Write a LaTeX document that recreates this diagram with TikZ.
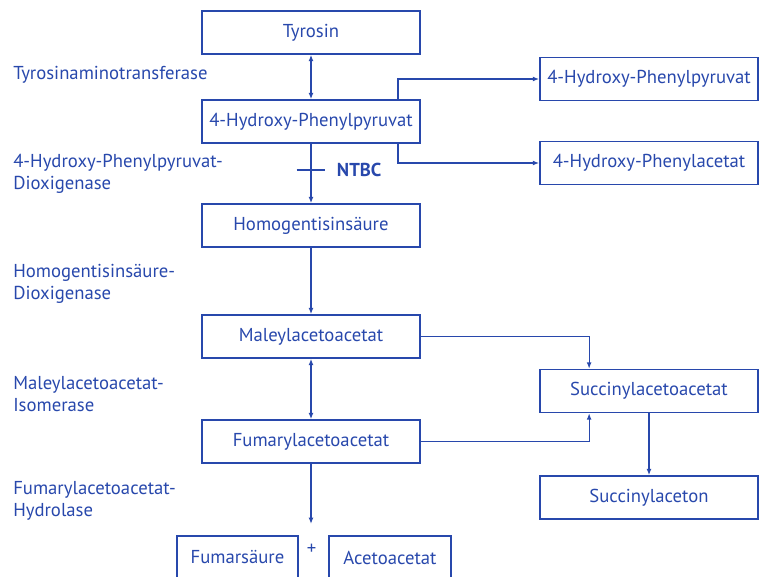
\documentclass[tikz,border=0pt]{standalone}
\usepackage{fontspec}
\setmainfont{PT Sans}
\usetikzlibrary{arrows.meta,positioning}
\definecolor{ink}{RGB}{40,72,172}

\tikzset{
  metab/.style={draw=ink, line width=1.2pt, text=ink, minimum width=5.45cm, minimum height=1.07cm, inner xsep=1pt},
  enzyme/.style={text=ink, anchor=west, align=left, inner sep=0pt},
  arr/.style={draw=ink, line width=0.9pt, -{Latex[length=4.5pt,width=3.5pt]}},
  darr/.style={arr, {Latex[length=4.5pt,width=3.5pt]}-{Latex[length=4.5pt,width=3.5pt]}}
}

\begin{document}
\begin{tikzpicture}[x=0.025cm, y=-0.025cm, font=\fontsize{13.3}{15.6}\selectfont]
    \clip (0,0) rectangle (759,577);
    % main pathway
    \node[metab] (tyr) at (311,32.5) {Tyrosin};
    \node[metab] (hpp) at (311,121.5) {4-Hydroxy-Phenylpyruvat};
    \node[metab] (hga) at (311,225.5) {Homogentisins\"aure};
    \node[metab] (maa) at (311,336.5) {Maleylacetoacetat};
    \node[metab] (faa) at (311,441.5) {Fumarylacetoacetat};
    \node[metab, minimum width=3.03cm] (fum) at (237.5,557.5) {Fumars\"aure};
    \node[metab, minimum width=3.05cm] (aca) at (390,557.5) {Acetoacetat};
    \node[text=ink] (plus) at (311.5,549) {+};

    % side products
    \node[metab] (hppr) at (649,79) {4-Hydroxy-Phenylpyruvat};
    \node[metab] (hpa) at (649,163) {4-Hydroxy-Phenylacetat};
    \node[metab] (saa) at (649,391) {Succinylacetoacetat};
    \node[metab] (sa) at (649,497.5) {Succinylaceton};

    % enzymes
    \node[enzyme] (e1) at (13,75) {Tyrosinaminotransferase};
    \node[enzyme] (e2) at (13,174) {4-Hydroxy-Phenylpyruvat-\\Dioxigenase};
    \node[enzyme] (e3) at (13,284) {Homogentisins\"aure-\\Dioxigenase};
    \node[enzyme] (e4) at (13,394) {Maleylacetoacetat-\\Isomerase};
    \node[enzyme] (e5) at (13,501) {Fumarylacetoacetat-\\Hydrolase};

    % arrows
    \draw[darr] (tyr) -- (hpp);
    \draw[arr] (hpp) -- (hga);
    \draw[arr] (hga) -- (maa);
    \draw[darr] (maa) -- (faa);
    \coordinate (split) at (311,524);
    \draw[arr] (faa) -- (split);

    \draw[arr] ([xshift=-0.575cm]hpp.north east) |- (hppr.west);
    \draw[arr] ([xshift=-0.575cm]hpp.south east) |- (hpa.west);
    \draw[arr] (maa.east) -| ([xshift=1.25cm]saa.north west);
    \draw[arr] (faa.east) -| ([xshift=1.25cm]saa.south west);
    \draw[arr] (saa) -- (sa);

    % inhibitor
    \coordinate (block) at (311,170);
    \draw[draw=ink, line width=1.3pt] ([xshift=-0.36cm]block) -- ([xshift=0.36cm]block);
    \node[text=ink, font=\fontsize{13.3}{15.6}\selectfont\bfseries, anchor=west] (ntbc) at (332,170) {NTBC};
\end{tikzpicture}
\end{document}
